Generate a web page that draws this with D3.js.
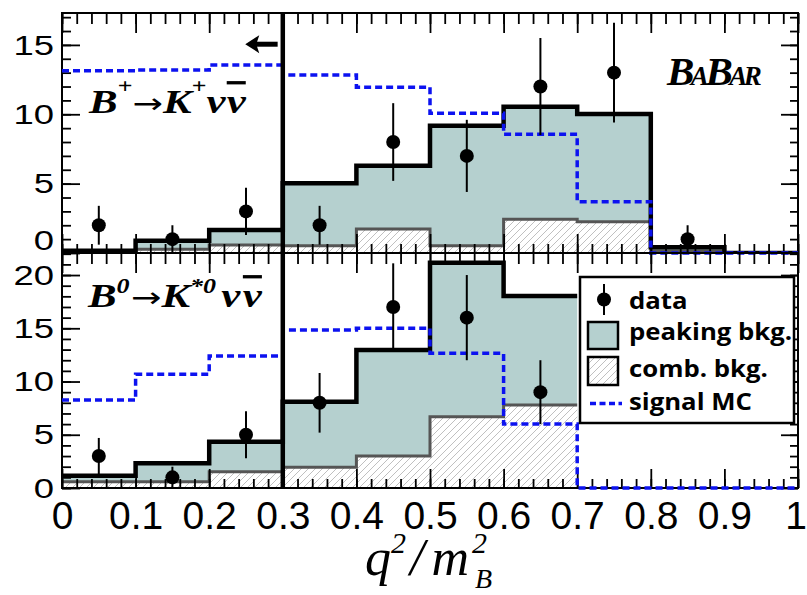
<!DOCTYPE html>
<html><head><meta charset="utf-8">
<script src="https://cdn.jsdelivr.net/npm/d3@7"></script>
<style>body{margin:0;background:#fff} svg{display:block}</style>
</head><body><svg id="c" width="807" height="595"></svg>
<script>
// ---------- data ----------
const binEdges = [0, 0.1, 0.2, 0.3, 0.4, 0.5, 0.6, 0.7, 0.8, 0.9, 1.0];
const binCenters = [0.05, 0.15, 0.25, 0.35, 0.45, 0.55, 0.65, 0.75, 0.85, 0.95];
const xTickLabels = ["0", "0.1", "0.2", "0.3", "0.4", "0.5", "0.6", "0.7", "0.8", "0.9", "1"];

// top panel: B+ -> K+ nu nubar
const topData   = [2, 1, 3, 2, 8, 7, 12, 13, 1, null];
const topErr    = [1.4, 1.0, 1.7, 1.4, 2.8, 2.6, 3.5, 3.6, 1.0, null];
const topTotal  = [0.17, 0.89, 1.66, 5.03, 6.29, 9.18, 10.55, 10.02, 0.41, 0];
const topComb   = [0.10, 0.27, 0.58, 0.53, 1.73, 0.53, 2.43, 2.26, 0.15, 0];
const topSignal = [13.14, 13.2, 13.55, 12.83, 11.95, 10.07, 8.56, 3.7, 0, 0];
const topYTicks = [0, 5, 10, 15];

// bottom panel: B0 -> K*0 nu nubar
const botData   = [3, 1, 5, 8, 17, 16, 9, null, null, null];
const botErr    = [1.7, 1.0, 2.2, 2.8, 4.1, 4.0, 3.0, null, null, null];
const botTotal  = [1.15, 2.32, 4.35, 8.1, 12.96, 21.15, 18.03];
const botComb   = [0.59, 0.59, 1.53, 1.94, 3.0, 6.69, 7.79];
const botSignal = [8.26, 10.68, 12.39, 14.84, 15.0, 12.65, 6.0, 0, 0, 0];
const botYTicks = [0, 5, 10, 15, 20];

const legendItems = ["data", "peaking bkg.", "comb. bkg.", "signal MC"];

// ---------- style ----------
const TEAL = "#b5d0cf", BLUE = "#0c12f0", GRAY = "#555";

const svg = d3.select("#c");
svg.append("rect").attr("width", 807).attr("height", 595).attr("fill", "#fff");

const defs = svg.append("defs");
const pat = defs.append("pattern").attr("id", "hatch").attr("patternUnits", "userSpaceOnUse")
  .attr("width", 7).attr("height", 7);
pat.append("rect").attr("width", 7).attr("height", 7).attr("fill", "#fff");
pat.append("path").attr("d", "M-1,1 l2,-2 M0,7 l7,-7 M6,8 l2,-2")
  .attr("stroke", "#b0b0b0").attr("stroke-width", 0.8);

const x = d3.scaleLinear().domain([0, 1]).range([62, 798]);
const yTop = d3.scaleLinear().domain([0, 17.3]).range([253, 13]);
const yBot = d3.scaleLinear().domain([0, 22.07]).range([488, 253]);

function stepPts(vals, drop) {
  const pts = vals.map((v, i) => [binEdges[i], v]);
  pts.push([binEdges[vals.length], vals[vals.length - 1]]);
  if (drop) pts.push([binEdges[vals.length], 0]);
  return pts;
}

function panel(y, total, comb, signal, data, err, yTicks, yMax, clipId, zeroShift, drop) {
  const g = svg.append("g");
  defs.append("clipPath").attr("id", clipId).append("rect")
    .attr("x", x(0)).attr("y", y(yMax)).attr("width", x(1) - x(0)).attr("height", y(0) - y(yMax));
  const h = g.append("g").attr("clip-path", `url(#${clipId})`);
  const area = d3.area().curve(d3.curveStepAfter).x(d => x(d[0])).y0(y(0)).y1(d => y(d[1]));
  const line = d3.line().curve(d3.curveStepAfter).x(d => x(d[0])).y(d => y(d[1]));
  h.append("path").attr("d", area(stepPts(total))).attr("fill", TEAL);
  h.append("path").attr("d", area(stepPts(comb))).attr("fill", "url(#hatch)");
  h.append("path").attr("d", line(stepPts(comb, drop))).attr("fill", "none")
    .attr("stroke", GRAY).attr("stroke-width", 3);
  h.append("path").attr("d", line(stepPts(total, drop))).attr("fill", "none")
    .attr("stroke", "#000").attr("stroke-width", 4.5);

  // frame + ticks
  const x0 = x(0), x1 = x(1), yt = y(yMax), yb = y(0);
  const xMajor = binEdges, xMinor = d3.range(0, 51).map(i => i / 50);
  const ax = g.append("g");
  ax.append("g").attr("transform", `translate(0,${yt})`)
    .call(d3.axisTop(x).tickValues(xMinor).tickSize(-11).tickFormat(""));
  ax.append("g").attr("transform", `translate(0,${yt})`)
    .call(d3.axisTop(x).tickValues(xMajor).tickSize(-20).tickFormat(""));
  ax.append("g").attr("transform", `translate(0,${yb})`)
    .call(d3.axisBottom(x).tickValues(xMinor).tickSize(-9).tickFormat(""));
  ax.append("g").attr("transform", `translate(0,${yb})`)
    .call(d3.axisBottom(x).tickValues(xMajor).tickSize(-19).tickFormat(""));
  const yMinor = d3.range(0, Math.floor(yMax) + 1);
  ax.append("g").attr("transform", `translate(${x0},0)`)
    .call(d3.axisLeft(y).tickValues(yMinor).tickSize(-9).tickFormat(""));
  ax.append("g").attr("transform", `translate(${x0},0)`)
    .call(d3.axisLeft(y).tickValues(yTicks).tickSize(-18).tickFormat(""));
  ax.append("g").attr("transform", `translate(${x1},0)`)
    .call(d3.axisRight(y).tickValues(yMinor).tickSize(-8).tickFormat(""));
  ax.append("g").attr("transform", `translate(${x1},0)`)
    .call(d3.axisRight(y).tickValues(yTicks).tickSize(-17).tickFormat(""));
  ax.selectAll(".domain").remove();
  ax.selectAll("line").attr("stroke", "#000").attr("stroke-width", 1.8);
  g.append("rect").attr("x", x0).attr("y", yt).attr("width", x1 - x0).attr("height", yb - yt)
    .attr("fill", "none").attr("stroke", "#000").attr("stroke-width", 2);

  // y labels
  g.append("g").selectAll("text").data(yTicks).join("text")
    .attr("transform", d => `translate(54,${y(d) + (d === 0 ? zeroShift : 0)}) scale(1.35,1)`)
    .attr("text-anchor", "end").attr("dy", "0.36em")
    .attr("font-family", "Liberation Sans, Arial, sans-serif").attr("font-size", 27)
    .text(d => d);

  // signal MC
  g.append("path").attr("d", line(stepPts(signal, true))).attr("fill", "none")
    .attr("stroke", BLUE).attr("stroke-width", 3.5).attr("stroke-dasharray", "7,4");

  // data points
  const pts = binCenters.map((c, i) => ({ c, v: data[i], e: err[i] })).filter(d => d.v !== null);
  const dp = g.append("g");
  dp.selectAll("line").data(pts).join("line")
    .attr("x1", d => x(d.c)).attr("x2", d => x(d.c))
    .attr("y1", d => y(d.v + d.e)).attr("y2", d => y(Math.max(0, d.v - d.e)))
    .attr("stroke", "#000").attr("stroke-width", 2);
  dp.selectAll("circle").data(pts).join("circle")
    .attr("cx", d => x(d.c)).attr("cy", d => y(d.v)).attr("r", 7).attr("fill", "#000");
  return g;
}

panel(yTop, topTotal, topComb, topSignal, topData, topErr, topYTicks, 17.3, "clipTop", -13, true);
panel(yBot, botTotal, botComb, botSignal, botData, botErr, botYTicks, 22.07, "clipBot", 0, false);

// divider at 0.3
svg.append("line").attr("x1", x(0.3)).attr("x2", x(0.3)).attr("y1", yTop(17.3)).attr("y2", yBot(0))
  .attr("stroke", "#000").attr("stroke-width", 4.5);

// arrow (fit region: q2 < 0.3)
const ay = yTop(15.05), ax0 = x(0.293), ax1 = x(0.249);
svg.append("line").attr("x1", ax0).attr("x2", ax1 + 10).attr("y1", ay).attr("y2", ay)
  .attr("stroke", "#000").attr("stroke-width", 5);
svg.append("path").attr("d", `M${ax1},${ay} L${ax1 + 14},${ay - 9} L${ax1 + 11},${ay} L${ax1 + 14},${ay + 9} Z`)
  .attr("fill", "#000");

// x tick labels
svg.append("g").attr("transform", `translate(0,${yBot(0)})`)
  .call(d3.axisBottom(x).tickValues(binEdges).tickSize(0).tickPadding(13)
    .tickFormat((d, i) => xTickLabels[i]))
  .call(g => g.select(".domain").remove())
  .selectAll("text").attr("font-family", "Liberation Sans, Arial, sans-serif")
  .attr("font-size", 39).attr("fill", "#000")
  .attr("dx", (d, i) => i === xTickLabels.length - 1 ? -2.5 : 0);

// axis title q^2/m_B^2
const serif = "Liberation Serif, Times New Roman, serif";
const t = svg.append("text").attr("x", 365).attr("y", 575).attr("font-family", serif)
  .attr("font-style", "italic").attr("font-size", 52).attr("fill", "#000");
t.append("tspan").text("q");
t.append("tspan").attr("font-size", 30).attr("dy", -22).text("2");
t.append("tspan").attr("dy", 22).attr("dx", 4).text("/");
t.append("tspan").attr("dx", 7).text("m");
t.append("tspan").attr("font-size", 30).attr("dx", 3).attr("dy", -22).text("2");
t.append("tspan").attr("font-size", 28).attr("dx", -12).attr("dy", 35).text("B");

// reaction labels (horizontally stretched like the original figure)
function reaction(xp, yp, parts) {
  const tx = svg.append("text").attr("transform", `translate(${xp},${yp}) scale(1.3,1)`)
    .attr("font-family", serif)
    .attr("font-style", "italic").attr("font-weight", "bold").attr("font-size", 33).attr("fill", "#000");
  let shift = 0;
  parts.forEach(p => {
    const s = tx.append("tspan").text(p.t);
    const target = p.sup || 0;
    s.attr("dy", target - shift); shift = target;
    if (p.sup) s.attr("font-size", 20);
    if (p.plain) s.attr("font-style", "normal").attr("font-weight", "normal")
      .attr("font-family", "DejaVu Sans, sans-serif").attr("font-size", 28);
    if (p.over) s.style("text-decoration", "overline");
    if (p.dx) s.attr("dx", p.dx);
  });
}
reaction(89, 113, [{ t: "B" }, { t: "+", sup: -20 }, { t: "→", plain: true }, { t: "K" }, { t: "+", sup: -20 },
  { t: "ν" }, { t: "ν", over: true, dx: 1 }]);
reaction(88, 307, [{ t: "B" }, { t: "0", sup: -14 }, { t: "→", plain: true, dx: 1 }, { t: "K" }, { t: "*0", sup: -14 },
  { t: "ν", dx: 4 }, { t: "ν", over: true, dx: 2 }]);

// BaBar logo
const bb = svg.append("text").attr("x", 667).attr("y", 85).attr("font-family", serif)
  .attr("font-style", "italic").attr("font-weight", "bold").attr("fill", "#000")
  .attr("letter-spacing", -3.5);
bb.append("tspan").attr("font-size", 41).text("B");
bb.append("tspan").attr("font-size", 27).text("A");
bb.append("tspan").attr("font-size", 41).text("B");
bb.append("tspan").attr("font-size", 27).text("AR");

// legend
const lg = svg.append("g");
lg.append("rect").attr("x", 580).attr("y", 277).attr("width", 214).attr("height", 146)
  .attr("fill", "#fff").attr("stroke", "#000").attr("stroke-width", 2.5);
lg.append("line").attr("x1", 604).attr("x2", 604).attr("y1", 284).attr("y2", 315)
  .attr("stroke", "#000").attr("stroke-width", 2);
lg.append("circle").attr("cx", 604).attr("cy", 299.5).attr("r", 7).attr("fill", "#000");
lg.append("rect").attr("x", 588).attr("y", 322).attr("width", 30).attr("height", 27)
  .attr("fill", TEAL).attr("stroke", "#000").attr("stroke-width", 2.5);
lg.append("rect").attr("x", 588).attr("y", 357).attr("width", 30).attr("height", 28)
  .attr("fill", "url(#hatch)").attr("stroke", "#000").attr("stroke-width", 2.5);
lg.append("line").attr("x1", 590).attr("x2", 622).attr("y1", 403.5).attr("y2", 403.5)
  .attr("stroke", BLUE).attr("stroke-width", 3.5).attr("stroke-dasharray", "6,3.5");
const lgBase = [309, 340, 377, 410];
lg.selectAll("text.l").data(legendItems).join("text").attr("class", "l")
  .attr("transform", (d, i) => `translate(629,${lgBase[i]}) scale(1.12,1)`)
  .attr("font-family", "Open Sans, sans-serif").attr("font-weight", 700).attr("font-size", 23)
  .attr("fill", "#000").text(d => d);
</script></body></html>
